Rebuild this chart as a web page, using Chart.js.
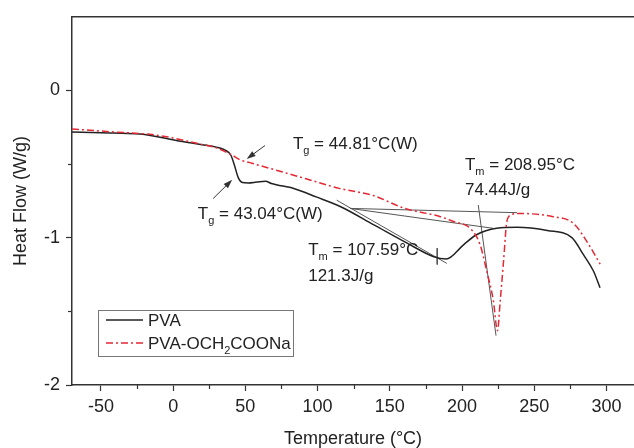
<!DOCTYPE html>
<html>
<head>
<meta charset="utf-8">
<script src="https://cdn.jsdelivr.net/npm/chart.js@4.4.0/dist/chart.umd.min.js"></script>
<style>
  html, body { margin: 0; padding: 0; background: #fff; }
  canvas { display: block; }
</style>
</head>
<body>
<canvas id="dsc" width="634" height="448"></canvas>
<script>
// DSC curves, temperature (°C) vs heat flow (W/g)
const pvaTemp = [-70, -50, -23, 5, 20, 30, 36, 40, 42.5, 45, 48, 52, 58, 64, 68, 84, 99, 116, 139, 162, 180, 189, 201, 210, 224, 238, 259, 276, 284, 291, 295.5];
const pvaFlow = [-0.282, -0.288, -0.296, -0.345, -0.368, -0.385, -0.405, -0.44, -0.51, -0.59, -0.625, -0.628, -0.622, -0.617, -0.632, -0.667, -0.723, -0.79, -0.913, -1.037, -1.127, -1.145, -1.048, -0.98, -0.936, -0.929, -0.951, -0.999, -1.115, -1.228, -1.34];

const naTemp = [-70, -44, -9, 18.6, 30, 37, 41, 46, 53, 60, 72, 92, 115, 139, 160, 185, 194, 205.6, 212.5, 217.1, 221.7, 224.5, 226.4, 228.7, 231, 234, 238, 263, 277, 286.4, 295.6];
const naFlow = [-0.262, -0.28, -0.307, -0.364, -0.39, -0.42, -0.44, -0.47, -0.49, -0.51, -0.543, -0.6, -0.665, -0.715, -0.8, -0.857, -0.89, -0.936, -1.048, -1.228, -1.43, -1.632, -1.43, -1.16, -0.89, -0.845, -0.835, -0.857, -0.902, -1.026, -1.18];

const seriesNames = ['PVA', 'PVA-OCH2COONa'];

const xTickStep = 50;
const yTickStep = 1;
const xMinorTicks = [-25, 25, 75, 125, 175, 225, 275];
const yMinorTicks = [-1.5, -0.5];

// construction lines from the analysis: [x1, y1, x2, y2]
const guideLines = [
  [113.2, -0.745, 189.4, -1.174],
  [182.8, -1.071, 182.8, -1.182],
  [122.4, -0.801, 238, -0.830],
  [122.4, -0.801, 221.4, -0.936],
  [211.2, -0.778, 223.5, -1.665]
];

// arrows: [tailX, tailY, headX, headY]
const arrows = [
  [63.6, -0.374, 50.9, -0.465],
  [27.7, -0.734, 40.9, -0.606]
];

// labels: x, baseline y, pieces ([text, isSubscript])
const labels = [
  { x: 82.9, y: -0.40, parts: [['T', 0], ['g', 1], [' = 44.81°C(W)', 0]] },
  { x: 17.1, y: -0.871, parts: [['T', 0], ['g', 1], [' = 43.04°C(W)', 0]] },
  { x: 93.5, y: -1.115, parts: [['T', 0], ['m', 1], [' = 107.59°C', 0]] },
  { x: 93.5, y: -1.295, parts: [['121.3J/g', 0]] },
  { x: 202, y: -0.541, parts: [['T', 0], ['m', 1], [' = 208.95°C', 0]] },
  { x: 202, y: -0.712, parts: [['74.44J/g', 0]] }
];

const FONT = '"Liberation Sans", Arial, sans-serif';
const INK = '#222';
const RED = 'rgb(228, 40, 52)';
const RED_DASH = [7, 3, 2, 3];

function pts(xs, ys) {
  return xs.map((x, i) => ({ x: x, y: ys[i] }));
}

const datasets = [
  {
    label: seriesNames[0],
    data: pts(pvaTemp, pvaFlow),
    borderColor: INK,
    borderWidth: 1.5,
    cubicInterpolationMode: 'monotone',
    order: 1
  },
  {
    label: seriesNames[1],
    data: pts(naTemp, naFlow),
    borderColor: RED,
    borderWidth: 1.5,
    borderDash: RED_DASH,
    cubicInterpolationMode: 'monotone',
    order: 0
  }
];

guideLines.forEach((g) => {
  datasets.push({
    label: '',
    data: [{ x: g[0], y: g[1] }, { x: g[2], y: g[3] }],
    borderColor: '#555',
    borderWidth: 1,
    order: 2
  });
});

function drawParts(ctx, x, y, parts, size) {
  let cx = x;
  ctx.textBaseline = 'alphabetic';
  ctx.textAlign = 'left';
  for (const [txt, sub] of parts) {
    ctx.font = (sub ? Math.round(size * 0.65) : size) + 'px ' + FONT;
    ctx.fillText(txt, cx, sub ? y + 5 : y);
    cx += ctx.measureText(txt).width;
  }
}

const extras = {
  id: 'extras',
  afterDatasetsDraw(chart) {
    const ctx = chart.ctx;
    const xs = chart.scales.x;
    const ys = chart.scales.y;
    const area = chart.chartArea;
    ctx.save();

    // top frame line
    ctx.strokeStyle = '#333';
    ctx.lineWidth = 1.5;
    ctx.beginPath();
    ctx.moveTo(area.left, area.top);
    ctx.lineTo(area.right, area.top);
    ctx.stroke();

    // minor ticks
    ctx.lineWidth = 1.2;
    xMinorTicks.forEach((v) => {
      const px = Math.round(xs.getPixelForValue(v)) + 0.5;
      ctx.beginPath();
      ctx.moveTo(px, area.bottom);
      ctx.lineTo(px, area.bottom + 4);
      ctx.stroke();
    });
    yMinorTicks.forEach((v) => {
      const py = Math.round(ys.getPixelForValue(v)) + 0.5;
      ctx.beginPath();
      ctx.moveTo(area.left, py);
      ctx.lineTo(area.left - 4, py);
      ctx.stroke();
    });

    // arrows
    ctx.strokeStyle = '#333';
    ctx.fillStyle = '#333';
    ctx.lineWidth = 1;
    arrows.forEach((a) => {
      const x1 = xs.getPixelForValue(a[0]), y1 = ys.getPixelForValue(a[1]);
      const x2 = xs.getPixelForValue(a[2]), y2 = ys.getPixelForValue(a[3]);
      const ang = Math.atan2(y2 - y1, x2 - x1);
      ctx.beginPath();
      ctx.moveTo(x1, y1);
      ctx.lineTo(x2 - 6 * Math.cos(ang), y2 - 6 * Math.sin(ang));
      ctx.stroke();
      ctx.beginPath();
      ctx.moveTo(x2, y2);
      ctx.lineTo(x2 - 9 * Math.cos(ang) + 3 * Math.sin(ang), y2 - 9 * Math.sin(ang) - 3 * Math.cos(ang));
      ctx.lineTo(x2 - 9 * Math.cos(ang) - 3 * Math.sin(ang), y2 - 9 * Math.sin(ang) + 3 * Math.cos(ang));
      ctx.closePath();
      ctx.fill();
    });

    // annotation text
    ctx.fillStyle = INK;
    labels.forEach((l) => {
      drawParts(ctx, xs.getPixelForValue(l.x), ys.getPixelForValue(l.y), l.parts, 17);
    });

    // legend box
    const bx = 98.5, by = 310.5, bw = 195, bh = 46;
    ctx.strokeStyle = '#777';
    ctx.lineWidth = 1;
    ctx.strokeRect(bx, by, bw, bh);

    ctx.lineWidth = 1.5;
    ctx.strokeStyle = INK;
    ctx.beginPath();
    ctx.moveTo(106, 320);
    ctx.lineTo(143, 320);
    ctx.stroke();

    ctx.strokeStyle = RED;
    ctx.setLineDash(RED_DASH);
    ctx.beginPath();
    ctx.moveTo(106, 343);
    ctx.lineTo(143, 343);
    ctx.stroke();
    ctx.setLineDash([]);

    ctx.fillStyle = INK;
    drawParts(ctx, 148, 326, [[seriesNames[0], 0]], 17);
    drawParts(ctx, 148, 349, [['PVA-OCH', 0], ['2', 1], ['COONa', 0]], 17);

    ctx.restore();
  }
};

new Chart(document.getElementById('dsc'), {
  type: 'scatter',
  data: { datasets: datasets },
  options: {
    responsive: false,
    devicePixelRatio: 1,
    animation: false,
    showLine: true,
    elements: { point: { radius: 0, hoverRadius: 0 }, line: { fill: false } },
    layout: { padding: { top: 14, right: 0, left: 0, bottom: 0 } },
    plugins: {
      legend: { display: false },
      tooltip: { enabled: false }
    },
    scales: {
      x: {
        type: 'linear',
        min: -70,
        max: 319,
        afterFit: (s) => { s.height = 63; },
        ticks: {
          stepSize: xTickStep,
          includeBounds: false,
          color: INK,
          padding: 5,
          font: { family: FONT, size: 18 }
        },
        grid: { drawOnChartArea: false, drawTicks: true, tickLength: 6, tickColor: '#333', tickWidth: 1.2 },
        border: { display: true, color: '#333', width: 1.5 },
        title: {
          display: true,
          text: 'Temperature (°C)',
          color: INK,
          font: { family: FONT, size: 18 },
          padding: { top: 0, bottom: -2 }
        }
      },
      y: {
        type: 'linear',
        min: -2,
        max: 0.5,
        afterFit: (s) => { s.width = 72; },
        ticks: {
          stepSize: yTickStep,
          includeBounds: false,
          color: INK,
          padding: 6,
          font: { family: FONT, size: 18 }
        },
        grid: { drawOnChartArea: false, drawTicks: true, tickLength: 6, tickColor: '#333', tickWidth: 1.2 },
        border: { display: true, color: '#333', width: 1.5 },
        title: {
          display: true,
          text: 'Heat Flow (W/g)',
          color: INK,
          font: { family: FONT, size: 18 },
          padding: { top: 10, bottom: 0 }
        }
      }
    }
  },
  plugins: [extras]
});
</script>
</body>
</html>
